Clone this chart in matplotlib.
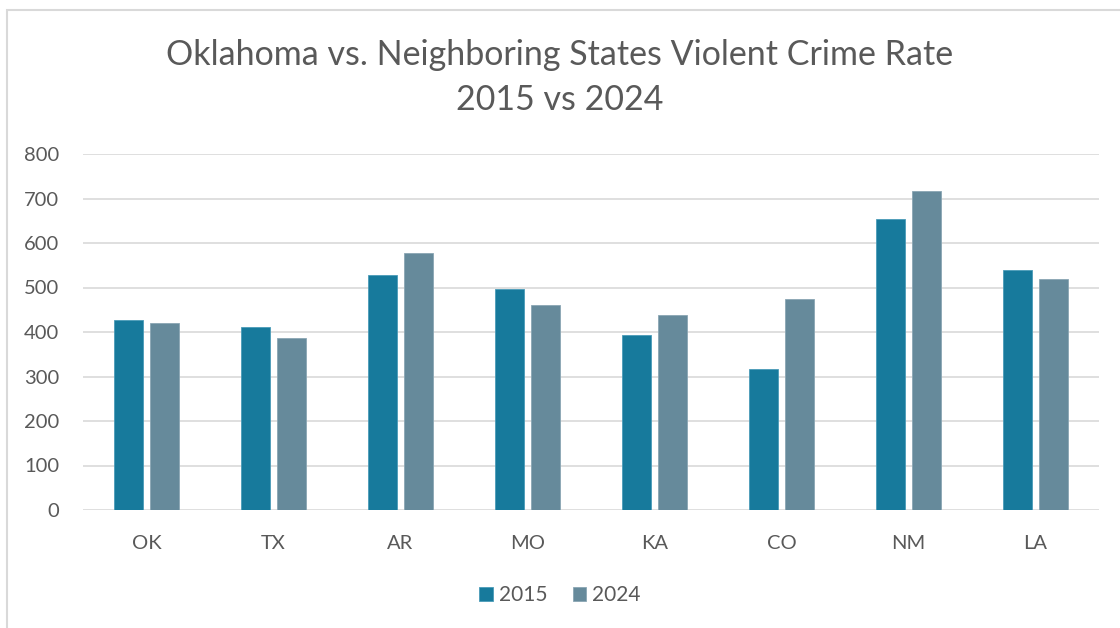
import numpy as np
import matplotlib.pyplot as plt
from matplotlib.patches import Rectangle

states = ['OK', 'TX', 'AR', 'MO', 'KA', 'CO', 'NM', 'LA']
rate_2015 = [427, 411, 527, 497, 393, 316, 655, 539]
rate_2024 = [421, 387, 578, 460, 438, 474, 716, 518]
years = ['2015', '2024']
colors = ['#177A9C', '#668A9B']

plt.rcParams['font.family'] = ['Lato', 'DejaVu Sans']
text_gray = '#595959'

W, H = 1120, 628
fig = plt.figure(figsize=(W / 100, H / 100), dpi=100)
# outer chart border, only left and top edges show in the crop
fig.patches.append(Rectangle((7 / W, -0.2), 1.5, 1.2 - 10 / H, transform=fig.transFigure,
                             fill=False, edgecolor='#D9D9D9', linewidth=1.5))

ax = fig.add_axes([83 / W, 1 - 510 / H, (1099 - 83) / W, (510 - 154) / H])

x = np.arange(len(states))
width = 0.226
gap = 0.055
off = (width + gap) / 2
ax.bar(x - off, rate_2015, width, color=colors[0], edgecolor='#4A9BB8', linewidth=0.6,
       label=years[0], zorder=3)
ax.bar(x + off, rate_2024, width, color=colors[1], edgecolor='#8AA6B4', linewidth=0.6,
       label=years[1], zorder=3)

ax.set_xlim(-0.5, len(states) - 0.5)
ax.set_ylim(0, 800)
ax.set_yticks(range(0, 801, 100))
ax.set_xticks(x)
ax.set_xticklabels(states)
ax.grid(axis='y', color='#D9D9D9', linewidth=1.2, zorder=0)
for s in ax.spines.values():
    s.set_visible(False)
ax.tick_params(length=0, labelsize=14.5, colors=text_gray)
ax.tick_params(axis='x', pad=18)
ax.tick_params(axis='y', pad=17)

fig.text(0.5, 1 - 55 / H, 'Oklahoma vs. Neighboring States Violent Crime Rate',
         ha='center', va='center', fontsize=24.5, color=text_gray)
fig.text(0.5, 1 - 100 / H, '2015 vs 2024', ha='center', va='center',
         fontsize=24.5, color=text_gray)

leg = fig.legend(loc='center', bbox_to_anchor=(0.5, 1 - 595 / H), ncol=2, frameon=False,
                 fontsize=15, handlelength=0.65, handleheight=0.65, handletextpad=0.3,
                 columnspacing=1.2)
for t in leg.get_texts():
    t.set_color(text_gray)

fig.savefig('out.png', dpi=100)
